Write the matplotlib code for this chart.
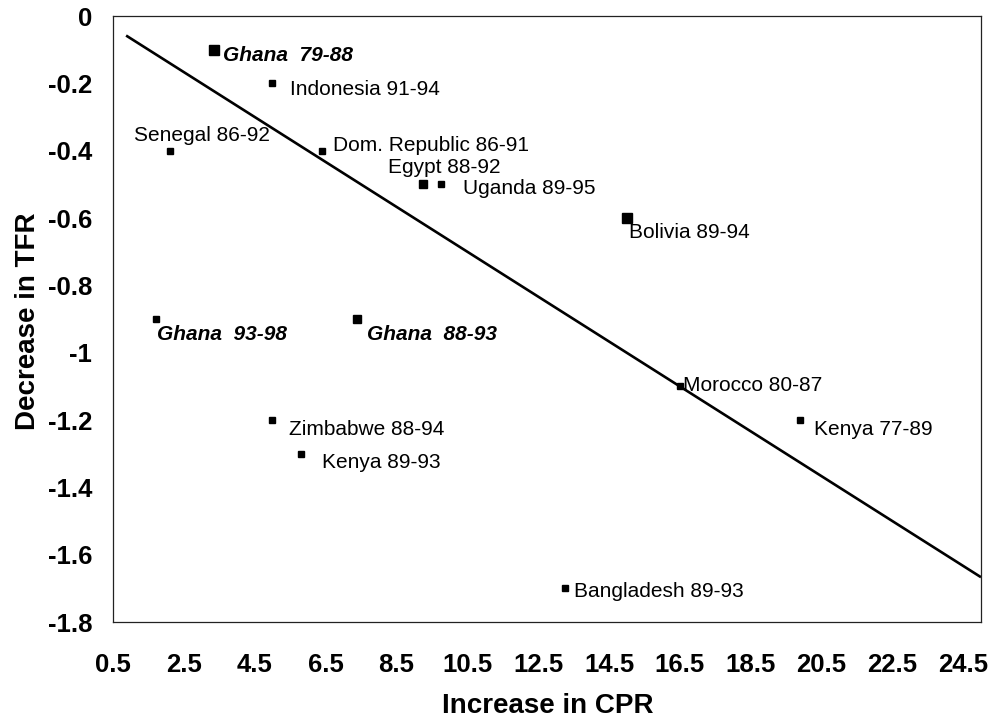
import matplotlib
matplotlib.use("Agg")
import matplotlib.pyplot as plt

# ---- data ----
labels = ["Ghana  79-88", "Indonesia 91-94", "Senegal 86-92", "Dom. Republic 86-91",
          "Egypt 88-92", "Uganda 89-95", "Bolivia 89-94", "Morocco 80-87",
          "Kenya 77-89", "Ghana  93-98", "Ghana  88-93", "Zimbabwe 88-94",
          "Kenya 89-93", "Bangladesh 89-93"]
cpr_increase = [3.35, 5.0, 2.1, 6.4, 9.25, 9.75, 15.0, 16.5, 19.9, 1.7, 7.4, 5.0, 5.8, 13.25]
tfr_decrease = [-0.1, -0.2, -0.4, -0.4, -0.5, -0.5, -0.6, -1.1, -1.2, -0.9, -0.9, -1.2, -1.3, -1.7]
ghana_flags = [True, False, False, False, False, False, False, False, False, True, True, False, False, False]

trend_x = [0.87, 25.0]
trend_y = [-0.058, -1.667]

x_ticks = [0.5, 2.5, 4.5, 6.5, 8.5, 10.5, 12.5, 14.5, 16.5, 18.5, 20.5, 22.5, 24.5]
y_ticks = [0, -0.2, -0.4, -0.6, -0.8, -1, -1.2, -1.4, -1.6, -1.8]

# label offsets (pixels) and marker sizes (style only)
label_offsets = [(9, -11), (18, -12), (-36, 10), (11, 0), (-35, 11), (22, -10), (2, -20.5),
                 (3.5, -5), (14, -15), (1, -20.5), (9.5, -20.5), (17, -15), (21, -14), (9, -9)]
marker_sizes = [6.5, 5, 4.5, 5, 6, 5, 6.5, 4.5, 5, 5, 6, 5, 5, 4.5]

plt.rcParams['font.family'] = ['Liberation Sans', 'DejaVu Sans']

fig = plt.figure(figsize=(10.02, 7.19), dpi=100)
ax = fig.add_axes([113/1002, 1 - 622/719, 868/1002, 606/719])

ax.plot(trend_x, trend_y, color='black', lw=1.9, solid_capstyle='butt', zorder=2)

for x, y, lab, g, off, ms in zip(cpr_increase, tfr_decrease, labels, ghana_flags,
                                 label_offsets, marker_sizes):
    ax.plot([x], [y], marker='s', ms=ms, color='black', mec='black', ls='none', zorder=3)
    ax.annotate(lab, (x, y), xytext=off, textcoords='offset pixels',
                ha='left', va='baseline', fontsize=15,
                fontweight='bold' if g else 'normal',
                fontstyle='italic' if g else 'normal', color='black')

ax.set_xlim(0.5, 25.0)
ax.set_ylim(-1.8, 0)
ax.set_xticks(x_ticks)
ax.set_xticklabels([f"{v}" for v in x_ticks])
ax.set_yticks(y_ticks)
ax.set_yticklabels([f"{v:g}" for v in y_ticks])
ax.tick_params(axis='x', length=0, pad=22, labelsize=18.5)
ax.tick_params(axis='y', length=0, pad=15, labelsize=18.5)
for t in ax.get_xticklabels() + ax.get_yticklabels():
    t.set_fontweight('bold')

for s in ax.spines.values():
    s.set_linewidth(0.9)
    s.set_color('#222222')

fig.text(548/1002, 6/719, "Increase in CPR", ha='center', va='baseline',
         fontsize=20, fontweight='bold')
fig.text(35/1002, 1 - 321/719, "Decrease in TFR", ha='center', va='baseline',
         rotation=90, rotation_mode='anchor', fontsize=20, fontweight='bold')

fig.savefig("out.png", dpi=100)
